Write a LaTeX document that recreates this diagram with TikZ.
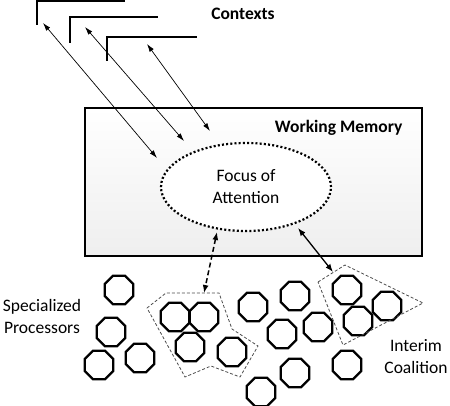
\documentclass[tikz,border=0pt]{standalone}
\usepackage{fontspec}
\setmainfont{Carlito}
\usetikzlibrary{arrows.meta,positioning,calc,shapes.geometric}

\begin{document}
\begin{tikzpicture}[x=1pt, y=-1pt, font=\fontsize{17.5}{22}\selectfont,
  proc/.style={draw, line width=2.3pt, regular polygon, regular polygon sides=8,
    minimum size=31pt, inner sep=0pt},
  ctx/.style={line width=1.7pt},
  link/.style={line width=0.7pt, {Latex[length=8pt,width=5pt]}-{Latex[length=8pt,width=5pt]}},
  coal/.style={gray!60!black, dash pattern=on 3pt off 2pt, line width=0.8pt},
  bold/.style={font=\fontsize{17.5}{22}\selectfont\bfseries}]
\useasboundingbox (0,0) rectangle (450,406);
% contexts
\draw[ctx] (37,25) -- (37,0.9) -- (125,0.9);
\draw[ctx] (70,43) -- (70,17) -- (158,17);
\draw[ctx] (107,61) -- (107,37) -- (197,37);
\node[bold] (ctxlabel) at (243,14) {Contexts};
% working memory and focus
\node[draw, line width=1.8pt, minimum width=337pt, minimum height=148pt, inner sep=0pt,
  top color=white, bottom color=gray!13] (wm) at (253.5,182) {};
\node[bold, anchor=east] (wmlabel) at (406,128) {Working Memory};
\node[ellipse, draw, fill=white, line width=2.2pt, dash pattern=on 2pt off 2.2pt,
  minimum width=170pt, minimum height=88pt, align=center] (focus) at (246,187)
  {Focus of\\Attention};
% arrow ends
\coordinate (c1) at (43,23);  \coordinate (f1) at (157,158);
\coordinate (c2) at (85,27);  \coordinate (f2) at (184,141);
\coordinate (c3) at (147,44); \coordinate (f3) at (210,131);
\foreach \i in {1,2,3} \draw[link] (c\i) -- (f\i);
% specialized processors
\foreach \px/\py [count=\i] in {119/290, 111/332, 99/365, 140/358, 175/317, 204/317,
  190/347, 232/352, 253/307, 295/296, 282/334, 318/327, 347/290, 387/306,
  358/321, 347/365, 295/373, 261/392}
  \node[proc] (p\i) at (\px,\py) {};
\node[align=center] (spec) at (42,316) {Specialized\\Processors};
\node[align=center] (interim) at (416,357) {Interim\\Coalition};
% coalitions
\draw[coal] (147,308) coordinate (la) -- (166,293) -- (204,293) coordinate (ltop)
  -- (219,293) -- (232,329) -- (258,346) -- (240,377) -- (211,366) -- (185,377) -- cycle;
\draw[coal] (318,282) -- (345,265) coordinate (rtop) -- (423,303) -- (343,345) -- cycle;
\coordinate (fb) at (217,232);
\coordinate (fr) at (298,228);
\coordinate (rin) at (333,272);
\draw[line width=1.5pt, dash pattern=on 5pt off 3pt,
  {Latex[length=8pt,width=6pt]}-{Latex[length=8pt,width=6pt]}] (fb) -- (ltop);
\draw[line width=1.3pt, {Latex[length=8pt,width=6pt]}-{Latex[length=8pt,width=6pt]}] (fr) -- (rin);
\end{tikzpicture}
\end{document}
